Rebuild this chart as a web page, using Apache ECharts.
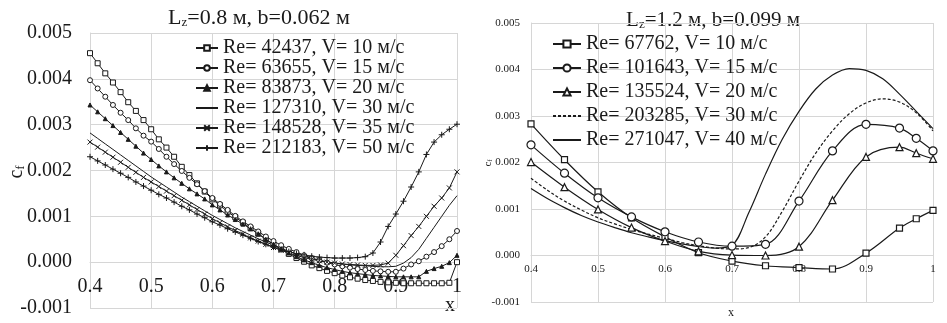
<!DOCTYPE html>
<html>
<head>
<meta charset="utf-8">
<script src="https://cdn.jsdelivr.net/npm/echarts@6/dist/echarts.min.js"></script>
<style>
html, body { margin: 0; padding: 0; background: #fff; }
#chart { width: 947px; height: 323px; }
</style>
</head>
<body>
<div id="chart"></div>
<script>
// left panel: Lz = 0.8 m, b = 0.062 m
var xLeft = [0.4, 0.4125, 0.425, 0.4375, 0.45, 0.4625, 0.475, 0.4875, 0.5, 0.5125,
	0.525, 0.5375, 0.55, 0.5625, 0.575, 0.5875, 0.6, 0.6125, 0.625, 0.6375,
	0.65, 0.6625, 0.675, 0.6875, 0.7, 0.7125, 0.725, 0.7375, 0.75, 0.7625,
	0.775, 0.7875, 0.8, 0.8125, 0.825, 0.8375, 0.85, 0.8625, 0.875, 0.8875,
	0.9, 0.9125, 0.925, 0.9375, 0.95, 0.9625, 0.975, 0.9875, 1.0];

var cfRe42437 = [0.00456, 0.00434, 0.00412, 0.00392, 0.00371, 0.00349, 0.00330, 0.00310, 0.00290, 0.00268,
	0.00250, 0.00230, 0.00208, 0.00190, 0.00172, 0.00154, 0.00137, 0.00124, 0.00110, 0.00098,
	0.00086, 0.00074, 0.00062, 0.00050, 0.00038, 0.00028, 0.00018, 0.00009, 0.00001, -0.00007,
	-0.00013, -0.00019, -0.00024, -0.00029, -0.00033, -0.00036, -0.00039, -0.00041, -0.00043, -0.00044,
	-0.00045, -0.00046, -0.00046, -0.00046, -0.00046, -0.00046, -0.00046, -0.00045, 0.00000];
var cfRe63655 = [0.00397, 0.00379, 0.00361, 0.00343, 0.00326, 0.00310, 0.00292, 0.00276, 0.00263, 0.00247,
	0.00230, 0.00214, 0.00199, 0.00184, 0.00170, 0.00155, 0.00140, 0.00127, 0.00114, 0.00101,
	0.00089, 0.00078, 0.00067, 0.00056, 0.00046, 0.00037, 0.00029, 0.00022, 0.00015, 0.00009,
	0.00004, -0.00001, -0.00005, -0.00009, -0.00012, -0.00015, -0.00017, -0.00019, -0.00020, -0.00021,
	-0.00021, -0.00014, -0.00005, 0.00002, 0.00012, 0.00022, 0.00035, 0.00050, 0.00068];
var cfRe83873 = [0.00343, 0.00328, 0.00313, 0.00298, 0.00283, 0.00268, 0.00253, 0.00238, 0.00224, 0.00210,
	0.00197, 0.00184, 0.00172, 0.00160, 0.00149, 0.00138, 0.00125, 0.00114, 0.00103, 0.00093,
	0.00083, 0.00073, 0.00062, 0.00050, 0.00039, 0.00029, 0.00020, 0.00012, 0.00005, -0.00001,
	-0.00007, -0.00012, -0.00016, -0.00020, -0.00023, -0.00025, -0.00027, -0.00029, -0.00030, -0.00031,
	-0.00032, -0.00032, -0.00032, -0.00032, -0.00020, -0.00014, -0.00009, -0.00001, 0.00015];
var cfRe127310 = [0.00282, 0.00270, 0.00258, 0.00246, 0.00234, 0.00222, 0.00210, 0.00198, 0.00186, 0.00175,
	0.00164, 0.00153, 0.00142, 0.00132, 0.00122, 0.00112, 0.00102, 0.00093, 0.00084, 0.00075,
	0.00067, 0.00059, 0.00051, 0.00044, 0.00037, 0.00030, 0.00024, 0.00018, 0.00013, 0.00008,
	0.00004, 0.00001, -0.00002, -0.00004, -0.00006, -0.00007, -0.00008, -0.00009, -0.00010, -0.00010,
	-0.00009, -0.00002, 0.00010, 0.00028, 0.00052, 0.00076, 0.00100, 0.00124, 0.00145];
var cfRe148528 = [0.00262, 0.00251, 0.00240, 0.00229, 0.00218, 0.00207, 0.00196, 0.00185, 0.00175, 0.00165,
	0.00155, 0.00145, 0.00135, 0.00125, 0.00115, 0.00105, 0.00095, 0.00086, 0.00077, 0.00069,
	0.00061, 0.00053, 0.00046, 0.00039, 0.00032, 0.00026, 0.00020, 0.00015, 0.00010, 0.00006,
	0.00003, 0.00000, -0.00002, -0.00004, -0.00005, -0.00006, -0.00007, -0.00007, -0.00006, -0.00002,
	0.00015, 0.00036, 0.00058, 0.00078, 0.00100, 0.00122, 0.00140, 0.00162, 0.00197];
var cfRe212183 = [0.00230, 0.00221, 0.00212, 0.00203, 0.00194, 0.00185, 0.00175, 0.00166, 0.00157, 0.00148,
	0.00140, 0.00131, 0.00122, 0.00114, 0.00105, 0.00097, 0.00088, 0.00081, 0.00073, 0.00066,
	0.00059, 0.00052, 0.00045, 0.00039, 0.00033, 0.00028, 0.00023, 0.00019, 0.00016, 0.00013,
	0.00011, 0.00010, 0.00009, 0.00009, 0.00009, 0.00010, 0.00012, 0.00020, 0.00044, 0.00078,
	0.00105, 0.00133, 0.00164, 0.00197, 0.00235, 0.00262, 0.00278, 0.00290, 0.00301];

// right panel: Lz = 1.2 m, b = 0.099 m
var xRightMark = [0.4, 0.45, 0.5, 0.55, 0.6, 0.65, 0.7, 0.75, 0.8, 0.85, 0.9, 0.95, 0.975, 1.0];
var cfRe67762 = [0.00283, 0.00206, 0.00137, 0.00081, 0.00040, 0.00006, -0.00012, -0.00022, -0.00026, -0.00029,
	0.00005, 0.00059, 0.00079, 0.00097];
var cfRe101643 = [0.00238, 0.00177, 0.00124, 0.00083, 0.00051, 0.00029, 0.00020, 0.00024, 0.00117, 0.00225,
	0.00282, 0.00274, 0.00252, 0.00225];
var cfRe135524 = [0.00201, 0.00147, 0.00099, 0.00060, 0.00031, 0.00009, 0.00001, 0.00000, 0.00019, 0.00119,
	0.00212, 0.00233, 0.00220, 0.00208];
var xRightLine = [0.4, 0.425, 0.45, 0.475, 0.5, 0.525, 0.55, 0.575, 0.6, 0.625,
	0.65, 0.675, 0.7, 0.725, 0.75, 0.775, 0.8, 0.825, 0.85, 0.875,
	0.9, 0.925, 0.95, 0.975, 1.0];
var cfRe203285 = [0.00166, 0.00140, 0.00117, 0.00098, 0.00081, 0.00068, 0.00056, 0.00046, 0.00037, 0.00028,
	0.00021, 0.00016, 0.00014, 0.00017, 0.00040, 0.00095, 0.00160, 0.00220, 0.00268, 0.00305,
	0.00328, 0.00337, 0.00330, 0.00307, 0.00268];
var cfRe271047 = [0.00144, 0.00122, 0.00103, 0.00086, 0.00072, 0.00060, 0.00049, 0.00040, 0.00032, 0.00025,
	0.00019, 0.00016, 0.00022, 0.00092, 0.00175, 0.00250, 0.00310, 0.00358, 0.00388, 0.00402,
	0.00398, 0.00380, 0.00347, 0.00310, 0.00273];

var namesLeft = ['Re= 42437, V= 10 м/с', 'Re= 63655, V= 15 м/с', 'Re= 83873, V= 20 м/с',
	'Re= 127310, V= 30 м/с', 'Re= 148528, V= 35 м/с', 'Re= 212183, V= 50 м/с'];
var namesRight = ['Re= 67762, V= 10 м/с', 'Re= 101643, V= 15 м/с', 'Re= 135524, V= 20 м/с',
	'Re= 203285, V= 30 м/с', 'Re= 271047, V= 40 м/с'];

var FONT = 'Liberation Serif';
var INK = '#1a1a1a';
var GRID = '#d6d6d6';
var CROSS = 'path://M0,0L10,10M10,0L0,10';
var PLUS = 'path://M5,0L5,10M0,5L10,5';

function pairs(xs, ys) {
	return xs.map(function(x, i) {
		return [ x, ys[i] ];
	});
}

// the x axis sits on the cf = 0 line, i.e. one sixth of the plot height above the bottom
function xAxisOf(idx, size, margin, plotHeight) {
	return {
		gridIndex : idx,
		type : 'value',
		min : 0.4,
		max : 1,
		interval : 0.1,
		offset : -plotHeight / 6,
		axisLine : { onZero : false, lineStyle : { color : GRID } },
		axisTick : { show : false },
		splitLine : { lineStyle : { color : GRID } },
		axisLabel : {
			margin : margin,
			fontFamily : FONT,
			fontSize : size,
			color : INK,
			showMinLabel : true,
			showMaxLabel : true,
			formatter : function(v) {
				return v >= 0.999 ? '1' : v.toFixed(1);
			}
		}
	};
}

function yAxisOf(idx, size, margin) {
	return {
		gridIndex : idx,
		type : 'value',
		min : -0.001,
		max : 0.005,
		interval : 0.001,
		axisLine : { show : true, lineStyle : { color : GRID } },
		axisTick : { show : false },
		splitLine : { lineStyle : { color : GRID } },
		axisLabel : {
			margin : margin,
			fontFamily : FONT,
			fontSize : size,
			color : INK,
			formatter : function(v) {
				return v.toFixed(3);
			}
		}
	};
}

function leftSeries(name, ys, symbol, size, fill) {
	return {
		name : name,
		type : 'line',
		xAxisIndex : 0,
		yAxisIndex : 0,
		data : pairs(xLeft, ys),
		symbol : symbol,
		symbolSize : size,
		showAllSymbol : true,
		lineStyle : { color : INK, width : 1 },
		itemStyle : { color : fill, borderColor : INK, borderWidth : 1 },
		animation : false
	};
}

function rightSeries(name, xs, ys, symbol, size, dashed) {
	return {
		name : name,
		type : 'line',
		xAxisIndex : 1,
		yAxisIndex : 1,
		data : pairs(xs, ys),
		smooth : 0.35,
		symbol : symbol,
		symbolSize : size,
		showAllSymbol : true,
		lineStyle : { color : INK, width : 1.2, type : dashed ? [ 3, 2 ] : 'solid' },
		itemStyle : { color : '#fff', borderColor : INK, borderWidth : 1.2 },
		animation : false
	};
}

// legend entries of the plain lines: line only, no marker
function legendData(names, plain) {
	return names.map(function(n, i) {
		return plain.indexOf(i) >= 0 ? { name : n, itemStyle : { opacity : 0 } } : { name : n };
	});
}

function subText(x, y, main, sub, size, subSize, rot) {
	return {
		type : 'text',
		x : x,
		y : y,
		rotation : rot || 0,
		style : {
			text : '{a|' + main + '}{b|' + sub + '}',
			align : 'center',
			verticalAlign : 'middle',
			rich : {
				a : { fontFamily : FONT, fontSize : size, fill : INK },
				b : { fontFamily : FONT, fontSize : subSize, fill : INK, padding : [ Math.round(subSize * 0.7), 0, 0, 0 ] }
			}
		}
	};
}

function titleText(x, y, pre, sub, post, size) {
	return {
		type : 'text',
		x : x,
		y : y,
		style : {
			text : '{a|' + pre + '}{b|' + sub + '}{a|' + post + '}',
			align : 'center',
			verticalAlign : 'middle',
			rich : {
				a : { fontFamily : FONT, fontSize : size, fill : INK },
				b : { fontFamily : FONT, fontSize : 13, fill : INK, padding : [ 10, 0, 0, 0 ] }
			}
		}
	};
}

var option = {
	backgroundColor : '#fff',
	animation : false,
	grid : [ { left : 90, top : 33, width : 367, height : 275 },
		{ left : 531, top : 23, width : 402, height : 279 } ],
	xAxis : [ xAxisOf(0, 20, 15, 275), xAxisOf(1, 11, 8, 279) ],
	yAxis : [ yAxisOf(0, 20, 18), yAxisOf(1, 11, 11) ],
	legend : [ {
		data : legendData(namesLeft, [ 3 ]),
		orient : 'vertical',
		left : 195,
		top : 38,
		padding : 0,
		itemGap : 0,
		itemWidth : 22,
		itemHeight : 7,
		textStyle : { fontFamily : FONT, fontSize : 20, color : INK, lineHeight : 20 }
	}, {
		data : legendData(namesRight, [ 3, 4 ]),
		orient : 'vertical',
		left : 552,
		top : 32,
		padding : 0,
		itemGap : 0,
		itemWidth : 28,
		itemHeight : 9,
		textStyle : { fontFamily : FONT, fontSize : 20, color : INK, lineHeight : 24 }
	} ],
	series : [
		leftSeries(namesLeft[0], cfRe42437, 'rect', 5, '#fff'),
		leftSeries(namesLeft[1], cfRe63655, 'circle', 5, '#fff'),
		leftSeries(namesLeft[2], cfRe83873, 'triangle', 4, INK),
		leftSeries(namesLeft[3], cfRe127310, 'none', 0, INK),
		leftSeries(namesLeft[4], cfRe148528, CROSS, 5, INK),
		leftSeries(namesLeft[5], cfRe212183, PLUS, 6, INK),
		rightSeries(namesRight[0], xRightMark, cfRe67762, 'rect', 6, false),
		rightSeries(namesRight[1], xRightMark, cfRe101643, 'circle', 8, false),
		rightSeries(namesRight[2], xRightMark, cfRe135524, 'triangle', 7, false),
		rightSeries(namesRight[3], xRightLine, cfRe203285, 'none', 0, true),
		rightSeries(namesRight[4], xRightLine, cfRe271047, 'none', 0, false)
	],
	graphic : [
		titleText(259, 18, 'L', 'z', '=0.8 м, b=0.062 м', 22),
		titleText(713, 20, 'L', 'z', '=1.2 м, b=0.099 м', 21),
		subText(17, 172, 'c', 'f', 20, 12, Math.PI / 2),
		subText(488, 163, 'c', 'f', 11, 7, Math.PI / 2),
		{ type : 'text', x : 450, y : 306, style : { text : 'x', fontFamily : FONT, fontSize : 20, fill : INK, align : 'center', verticalAlign : 'middle' } },
		{ type : 'text', x : 731, y : 313, style : { text : 'x', fontFamily : FONT, fontSize : 12, fill : INK, align : 'center', verticalAlign : 'middle' } }
	]
};

echarts.init(document.getElementById('chart')).setOption(option);
</script>
</body>
</html>
